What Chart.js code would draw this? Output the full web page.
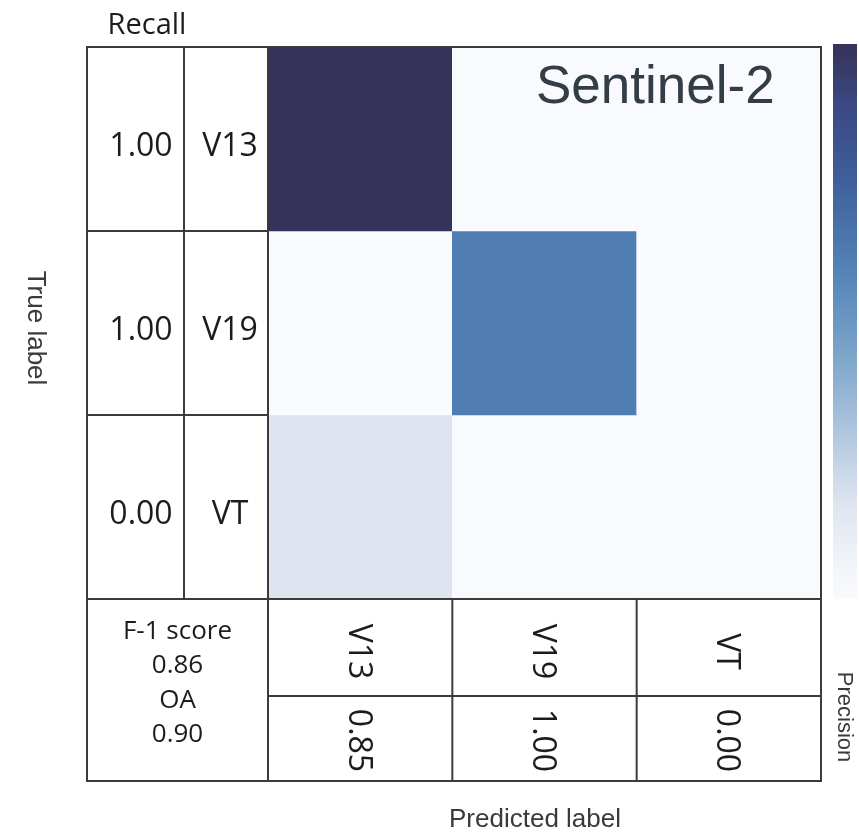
<!DOCTYPE html>
<html>
<head>
<meta charset="utf-8">
<script src="https://cdn.jsdelivr.net/npm/chart.js@4"></script>
<style>
  html, body { margin: 0; padding: 0; background: #ffffff; }
  canvas { display: block; }
</style>
</head>
<body>
<canvas id="cm" width="859" height="833"></canvas>
<script>
// Class names (rows = true label, columns = predicted label)
const classes = ['V13', 'V19', 'VT'];

// Sample counts per true class, one array per row
const rowV13 = [34, 0, 0];
const rowV19 = [0, 21, 0];
const rowVT  = [6, 0, 0];
const countRows = [rowV13, rowV19, rowVT];

// Per-class scores
const recall    = [1.00, 1.00, 0.00];
const precision = [0.85, 1.00, 0.00];
const f1Score = 0.86;
const overallAccuracy = 0.90;

const sensorName = 'Sentinel-2';

// Sequential colormap (value 0..1 -> colour)
const cmapStops = [
  [0.00, [249, 250, 253]],
  [0.08, [238, 242, 248]],
  [0.18, [220, 227, 240]],
  [0.22, [205, 217, 234]],
  [0.35, [157, 186, 214]],
  [0.48, [111, 156, 197]],
  [0.62, [79, 125, 178]],
  [0.75, [63, 96, 156]],
  [0.88, [58, 74, 134]],
  [1.00, [55, 50, 90]]
];
function cmap(v) {
  v = Math.max(0, Math.min(1, v));
  for (let i = 1; i < cmapStops.length; i++) {
    const [v1, c1] = cmapStops[i];
    const [v0, c0] = cmapStops[i - 1];
    if (v <= v1) {
      const t = (v - v0) / (v1 - v0);
      const c = c0.map((a, k) => Math.round(a + (c1[k] - a) * t));
      return `rgb(${c[0]},${c[1]},${c[2]})`;
    }
  }
  const c = cmapStops[cmapStops.length - 1][1];
  return `rgb(${c[0]},${c[1]},${c[2]})`;
}

const maxCount = Math.max(...countRows.flat());

// One stacked dataset per true-label row; every cell has unit height
const datasets = countRows.map((row, i) => ({
  label: classes[i],
  data: row.map(() => 1),
  backgroundColor: row.map(c => cmap(c / maxCount)),
  borderWidth: 0,
  barPercentage: 1.0,
  categoryPercentage: 1.0
}));

const LINE = '#3b3b3b';
const TEXT = '#1c1c1c';
const LABEL = '#3a3a3a';
const TABLE_FONT = '"Open Sans", "DejaVu Sans", sans-serif';
const AXIS_FONT = '"Liberation Sans", Arial, sans-serif';

// Table frame, scores, titles and colour bar drawn around the matrix
const decorations = {
  id: 'decorations',
  afterDraw(chart) {
    const ctx = chart.ctx;
    const area = chart.chartArea;
    const xs = chart.scales.x;
    const ys = chart.scales.y;
    const colW = (area.right - area.left) / classes.length;
    const tableLeft = 87;
    const nameCol = 184;
    const tableBottom = 781;
    const precLine = 696;

    const colCenter = j => xs.getPixelForValue(j);
    const rowCenter = i => ys.getPixelForValue(i + 0.5);

    ctx.save();

    // Colour bar
    const cbX = 833, cbW = 24, cbTop = 44, cbBottom = area.bottom;
    const grad = ctx.createLinearGradient(0, cbTop, 0, cbBottom);
    for (let k = 0; k <= 40; k++) {
      const t = k / 40;
      grad.addColorStop(t, cmap(1 - t));
    }
    ctx.fillStyle = grad;
    ctx.fillRect(cbX, cbTop, cbW, cbBottom - cbTop);

    // Grid lines
    ctx.strokeStyle = LINE;
    ctx.lineWidth = 2;
    const line = (x1, y1, x2, y2) => {
      ctx.beginPath();
      ctx.moveTo(x1, y1);
      ctx.lineTo(x2, y2);
      ctx.stroke();
    };
    // outer frame
    ctx.strokeRect(tableLeft, area.top, area.right - tableLeft, tableBottom - area.top);
    // left columns
    line(nameCol, area.top, nameCol, area.bottom);
    line(area.left, area.top, area.left, tableBottom);
    for (let i = 1; i < classes.length; i++) {
      const y = ys.getPixelForValue(i);
      line(tableLeft, y, area.left, y);
    }
    // bottom table
    line(tableLeft, area.bottom, area.right, area.bottom);
    line(area.left, precLine, area.right, precLine);
    for (let j = 1; j < classes.length; j++) {
      const x = area.left + colW * j;
      line(x, area.bottom, x, tableBottom);
    }

    // Row labels and recall values
    ctx.fillStyle = TEXT;
    ctx.textAlign = 'center';
    ctx.textBaseline = 'alphabetic';
    ctx.font = `32px ${TABLE_FONT}`;
    classes.forEach((c, i) => {
      const yb = rowCenter(i) + 16.5;
      ctx.fillText(recall[i].toFixed(2), 141, yb);
      ctx.fillText(c, 230, yb);
    });

    // Recall heading
    ctx.font = `29px ${TABLE_FONT}`;
    ctx.fillText('Recall', 147, 34);

    // F-1 score / OA block
    ctx.font = `26px ${TABLE_FONT}`;
    const bx = (tableLeft + area.left) / 2;
    ctx.fillText('F-1 score', bx, 639);
    ctx.fillText(f1Score.toFixed(2), bx, 673);
    ctx.fillText('OA', bx, 708);
    ctx.fillText(overallAccuracy.toFixed(2), bx, 742);

    // Rotated column labels and precision values
    ctx.font = `32px ${TABLE_FONT}`;
    const vText = (txt, cx, cy, capH) => {
      ctx.save();
      ctx.translate(cx, cy);
      ctx.rotate(Math.PI / 2);
      ctx.textAlign = 'center';
      ctx.textBaseline = 'alphabetic';
      ctx.fillText(txt, 0, capH / 2);
      ctx.restore();
    };
    classes.forEach((c, j) => {
      const cx = colCenter(j);
      vText(c, cx, (area.bottom + precLine) / 2 + 4, 22.8);
      vText(precision[j].toFixed(2), cx, (precLine + tableBottom) / 2 + 2, 22.8);
    });

    // Axis titles
    ctx.fillStyle = LABEL;
    ctx.font = `26px ${AXIS_FONT}`;
    ctx.fillText('Predicted label', 535, 827);
    vText('True label', 37, 328, 19);
    ctx.font = `22px ${AXIS_FONT}`;
    vText('Precision', 846, 717, 16);

    // Sensor name inside the matrix
    ctx.fillStyle = '#333d45';
    ctx.font = `53px ${AXIS_FONT}`;
    ctx.textAlign = 'left';
    ctx.fillText(sensorName, 536, 103);

    ctx.restore();
  }
};

new Chart(document.getElementById('cm'), {
  type: 'bar',
  data: { labels: classes, datasets },
  options: {
    responsive: false,
    animation: false,
    layout: { padding: { left: 268, right: 38, top: 47, bottom: 234 } },
    plugins: {
      legend: { display: false },
      tooltip: { enabled: false },
      title: { display: false }
    },
    scales: {
      x: { stacked: true, display: false, grid: { display: false } },
      y: { stacked: true, display: false, reverse: true, min: 0, max: 3, grid: { display: false } }
    }
  },
  plugins: [decorations]
});
</script>
</body>
</html>
